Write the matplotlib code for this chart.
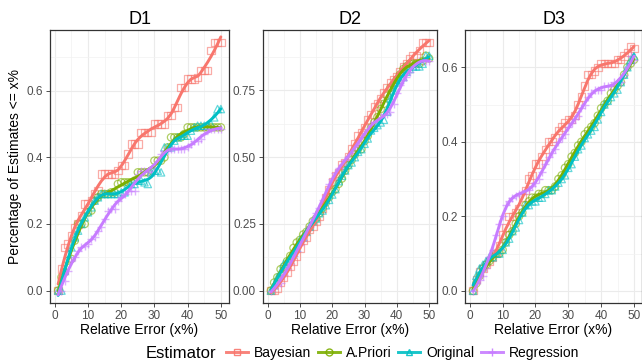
import numpy as np
import matplotlib
matplotlib.use("Agg")
import matplotlib.pyplot as plt
from matplotlib.lines import Line2D

plt.rcParams['font.family'] = ['Liberation Sans', 'DejaVu Sans']

# ---------------------------------------------------------------------------
# Data, x = relative error 1..50
# ---------------------------------------------------------------------------
rel_error = list(range(1, 51))
estimators = ["Bayesian", "A.Priori", "Original", "Regression"]
panels = ["D1", "D2", "D3"]

d1_bayesian = [0.0, 0.065, 0.13, 0.14, 0.165, 0.19, 0.2, 0.225, 0.26, 0.26,
               0.27, 0.29, 0.3, 0.35, 0.35, 0.35, 0.35, 0.35, 0.36, 0.375,
               0.375, 0.41, 0.44, 0.44, 0.44, 0.475, 0.475, 0.475, 0.475, 0.5,
               0.5, 0.5, 0.5, 0.525, 0.525, 0.55, 0.55, 0.61, 0.61, 0.635,
               0.635, 0.635, 0.64, 0.66, 0.66, 0.66, 0.72, 0.745, 0.745, 0.745]
d1_apriori = [0.0, 0.04, 0.055, 0.09, 0.095, 0.15, 0.2, 0.2, 0.2, 0.235,
              0.24, 0.27, 0.28, 0.29, 0.29, 0.29, 0.295, 0.295, 0.32, 0.325,
              0.325, 0.325, 0.325, 0.33, 0.355, 0.355, 0.355, 0.355, 0.36, 0.39,
              0.39, 0.39, 0.4, 0.43, 0.46, 0.46, 0.46, 0.46, 0.47, 0.49,
              0.49, 0.49, 0.49, 0.49, 0.49, 0.49, 0.49, 0.49, 0.49, 0.49]
d1_original = [0.0, 0.0, 0.06, 0.11, 0.13, 0.16, 0.18, 0.2, 0.22, 0.235,
               0.25, 0.27, 0.28, 0.29, 0.29, 0.29, 0.29, 0.29, 0.29, 0.295,
               0.295, 0.32, 0.32, 0.32, 0.33, 0.33, 0.325, 0.32, 0.355, 0.36,
               0.36, 0.355, 0.43, 0.43, 0.43, 0.45, 0.46, 0.465, 0.465, 0.465,
               0.48, 0.49, 0.495, 0.495, 0.495, 0.495, 0.5, 0.52, 0.545, 0.545]
d1_regression = [0.0, 0.0, 0.03, 0.06, 0.09, 0.1, 0.12, 0.13, 0.135, 0.14,
                 0.155, 0.16, 0.18, 0.19, 0.215, 0.24, 0.245, 0.245, 0.27, 0.28,
                 0.29, 0.3, 0.3, 0.3, 0.35, 0.36, 0.36, 0.355, 0.36, 0.37,
                 0.39, 0.41, 0.42, 0.42, 0.425, 0.425, 0.425, 0.425, 0.425, 0.43,
                 0.44, 0.45, 0.45, 0.455, 0.47, 0.485, 0.485, 0.485, 0.485, 0.485]

d2_bayesian = [0.0, 0.0, 0.01, 0.03, 0.05, 0.07, 0.09, 0.11, 0.13, 0.16,
               0.19, 0.2, 0.23, 0.24, 0.26, 0.28, 0.31, 0.35, 0.38, 0.41,
               0.43, 0.44, 0.47, 0.48, 0.5, 0.53, 0.55, 0.58, 0.59, 0.61,
               0.64, 0.66, 0.69, 0.7, 0.72, 0.74, 0.76, 0.78, 0.79, 0.8,
               0.82, 0.84, 0.85, 0.87, 0.88, 0.88, 0.9, 0.93, 0.93, 0.93]
d2_apriori = [0.0, 0.03, 0.05, 0.08, 0.09, 0.11, 0.13, 0.16, 0.18, 0.19,
              0.21, 0.22, 0.24, 0.26, 0.27, 0.29, 0.31, 0.33, 0.35, 0.37,
              0.38, 0.4, 0.42, 0.45, 0.47, 0.49, 0.51, 0.53, 0.53, 0.56,
              0.58, 0.61, 0.63, 0.65, 0.68, 0.7, 0.73, 0.76, 0.77, 0.79,
              0.81, 0.83, 0.84, 0.85, 0.85, 0.85, 0.85, 0.86, 0.88, 0.87]
d2_original = [0.0, 0.02, 0.05, 0.07, 0.1, 0.11, 0.12, 0.14, 0.16, 0.19,
               0.2, 0.22, 0.24, 0.26, 0.27, 0.29, 0.3, 0.32, 0.34, 0.36,
               0.38, 0.41, 0.43, 0.45, 0.47, 0.48, 0.5, 0.52, 0.53, 0.55,
               0.57, 0.6, 0.61, 0.62, 0.63, 0.64, 0.67, 0.72, 0.75, 0.78,
               0.79, 0.8, 0.82, 0.83, 0.84, 0.84, 0.84, 0.85, 0.88, 0.88]
d2_regression = [0.0, 0.01, 0.02, 0.03, 0.06, 0.08, 0.1, 0.13, 0.15, 0.17,
                 0.19, 0.22, 0.24, 0.27, 0.29, 0.31, 0.34, 0.36, 0.4, 0.42,
                 0.44, 0.46, 0.47, 0.49, 0.5, 0.52, 0.54, 0.55, 0.57, 0.59,
                 0.6, 0.62, 0.63, 0.64, 0.65, 0.66, 0.66, 0.67, 0.7, 0.74,
                 0.77, 0.79, 0.8, 0.82, 0.84, 0.85, 0.86, 0.86, 0.86, 0.86]

d3_bayesian = [0.0, 0.03, 0.05, 0.06, 0.07, 0.08, 0.09, 0.1, 0.12, 0.15,
               0.17, 0.2, 0.2, 0.21, 0.22, 0.25, 0.27, 0.3, 0.31, 0.34,
               0.34, 0.36, 0.38, 0.4, 0.4, 0.41, 0.43, 0.44, 0.45, 0.46,
               0.46, 0.47, 0.5, 0.52, 0.55, 0.58, 0.58, 0.59, 0.6, 0.61,
               0.61, 0.61, 0.61, 0.61, 0.62, 0.62, 0.63, 0.64, 0.655, 0.65]
d3_apriori = [0.0, 0.02, 0.04, 0.06, 0.07, 0.08, 0.09, 0.1, 0.1, 0.11,
              0.13, 0.15, 0.16, 0.18, 0.2, 0.21, 0.23, 0.24, 0.25, 0.25,
              0.26, 0.26, 0.27, 0.27, 0.27, 0.28, 0.3, 0.31, 0.33, 0.34,
              0.36, 0.37, 0.39, 0.4, 0.42, 0.43, 0.44, 0.45, 0.47, 0.49,
              0.5, 0.51, 0.53, 0.54, 0.55, 0.56, 0.58, 0.6, 0.61, 0.62]
d3_original = [0.0, 0.04, 0.06, 0.07, 0.08, 0.09, 0.09, 0.1, 0.1, 0.11,
               0.13, 0.14, 0.16, 0.17, 0.19, 0.21, 0.23, 0.23, 0.24, 0.24,
               0.25, 0.25, 0.26, 0.27, 0.27, 0.28, 0.29, 0.3, 0.31, 0.33,
               0.34, 0.36, 0.38, 0.39, 0.41, 0.42, 0.43, 0.44, 0.46, 0.48,
               0.5, 0.51, 0.52, 0.53, 0.54, 0.56, 0.58, 0.6, 0.62, 0.63]
d3_regression = [0.0, 0.02, 0.03, 0.04, 0.06, 0.09, 0.11, 0.15, 0.18, 0.2,
                 0.23, 0.24, 0.25, 0.255, 0.26, 0.26, 0.27, 0.27, 0.28, 0.29,
                 0.3, 0.32, 0.34, 0.36, 0.37, 0.38, 0.4, 0.41, 0.42, 0.44,
                 0.45, 0.46, 0.47, 0.49, 0.5, 0.52, 0.53, 0.54, 0.54, 0.54,
                 0.55, 0.55, 0.55, 0.56, 0.56, 0.56, 0.58, 0.6, 0.63, 0.62]

y_ticks = {"D1": [0.0, 0.2, 0.4, 0.6],
           "D2": [0.0, 0.25, 0.5, 0.75],
           "D3": [0.0, 0.2, 0.4, 0.6]}
y_fmt = {"D1": "{:.1f}", "D2": "{:.2f}", "D3": "{:.1f}"}
x_ticks = [0, 10, 20, 30, 40, 50]

series = {
    "D1": [d1_bayesian, d1_apriori, d1_original, d1_regression],
    "D2": [d2_bayesian, d2_apriori, d2_original, d2_regression],
    "D3": [d3_bayesian, d3_apriori, d3_original, d3_regression],
}

# ggplot default hues + shapes
colors = ["#F8766D", "#7CAE00", "#00BFC4", "#C77CFF"]
markers = ["s", "o", "^", "+"]


def loess(x, y, span=0.3):
    """local quadratic fit with tricube weights (like geom_smooth loess)"""
    x = np.asarray(x, float)
    y = np.asarray(y, float)
    xs = np.linspace(x.min(), x.max(), 200)
    k = max(3, int(np.ceil(span * len(x))))
    out = []
    for x0 in xs:
        d = np.abs(x - x0)
        h = np.sort(d)[k - 1] * 1.0001
        w = np.clip(1 - (d / h) ** 3, 0, None) ** 3
        X = np.vstack([np.ones_like(x), x - x0, (x - x0) ** 2]).T
        W = np.sqrt(w)
        beta = np.linalg.lstsq(X * W[:, None], y * W, rcond=None)[0]
        out.append(beta[0])
    return xs, np.array(out)


# ---------------------------------------------------------------------------
# Figure
# ---------------------------------------------------------------------------
W, H = 642, 364
fig = plt.figure(figsize=(W / 100, H / 100), dpi=100)

boxes = [(50, 229), (263, 437), (465, 642)]
top, bottom = 30, 303

for (left, right), name in zip(boxes, panels):
    ax = fig.add_axes([left / W, 1 - bottom / H, (right - left) / W, (bottom - top) / H])
    ymax = max(max(s) for s in series[name])
    for vals, col, mk in zip(series[name], colors, markers):
        if mk == "+":
            ax.scatter(rel_error, vals, marker=mk, s=34, color=col, alpha=0.6,
                       linewidths=1.0, zorder=3)
        else:
            ax.scatter(rel_error, vals, marker=mk, s=28, facecolors="none",
                       edgecolors=col, alpha=0.6, linewidths=0.9, zorder=3)
        xs, ys = loess(rel_error, vals)
        ax.plot(xs, ys, color=col, lw=2.1, zorder=4, solid_capstyle="round")

    xr = 49
    ax.set_xlim(1 - 0.05 * xr, 50 + 0.05 * xr)
    ax.set_ylim(-0.05 * ymax, ymax * 1.05)

    ax.set_xticks(x_ticks)
    ax.set_xticks([5, 15, 25, 35, 45], minor=True)
    yt = y_ticks[name]
    ax.set_yticks(yt)
    step = yt[1] - yt[0]
    ax.set_yticks([v + step / 2 for v in yt], minor=True)
    ax.set_yticklabels([y_fmt[name].format(v) for v in yt])

    ax.grid(True, which="major", color="#EBEBEB", lw=0.8, zorder=0)
    ax.grid(True, which="minor", color="#F2F2F2", lw=0.5, zorder=0)
    ax.set_axisbelow(True)
    for sp in ax.spines.values():
        sp.set_color("#333333")
        sp.set_linewidth(0.9)
    ax.tick_params(which="major", length=3, width=0.6, color="#333333",
                   labelsize=8.5, labelcolor="#4D4D4D", pad=2)
    ax.tick_params(which="minor", length=0)

    ax.set_title(name, fontsize=13, pad=4)
    ax.set_xlabel("Relative Error (x%)", fontsize=10, labelpad=1)
    if name == "D1":
        ax.set_ylabel("Percentage of Estimates <= x%", fontsize=10, labelpad=3)

# legend at the bottom
handles = []
for est, col, mk in zip(estimators, colors, markers):
    if mk == "+":
        h = Line2D([], [], color=col, lw=2.1, marker=mk, markersize=6,
                   markeredgecolor=col, alpha=0.9)
    else:
        h = Line2D([], [], color=col, lw=2.1, marker=mk, markersize=5,
                   markerfacecolor="none", markeredgecolor=col, alpha=0.9)
    handles.append(h)

fig.legend(handles, estimators, loc="center left",
           bbox_to_anchor=(226 / W, 1 - 353 / H), ncol=4, frameon=False,
           fontsize=10, handlelength=1.55, handletextpad=0.45, columnspacing=0.5,
           borderaxespad=0, borderpad=0)
fig.text(146 / W, 1 - 353 / H, "Estimator", fontsize=12, va="center", ha="left")

fig.savefig("out.png", dpi=100)
